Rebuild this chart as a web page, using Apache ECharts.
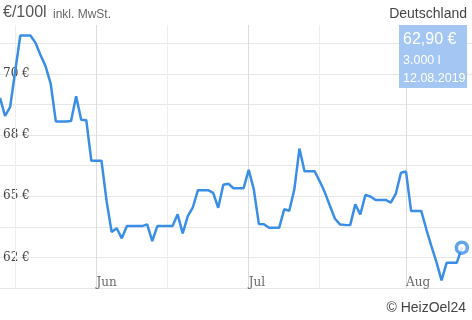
<!DOCTYPE html>
<html><head><meta charset="utf-8">
<script src="https://cdn.jsdelivr.net/npm/echarts@6/dist/echarts.min.js"></script>
<style>html,body{margin:0;padding:0;background:#fff}#c{width:472px;height:320px}</style>
</head><body><div id="c"></div>
<script>
const dates = [
'2019-05-13','2019-05-14','2019-05-15','2019-05-16','2019-05-17','2019-05-18','2019-05-19','2019-05-20','2019-05-21','2019-05-22',
'2019-05-23','2019-05-24','2019-05-25','2019-05-26','2019-05-27','2019-05-28','2019-05-29','2019-05-30','2019-05-31',
'2019-06-01','2019-06-02','2019-06-03','2019-06-04','2019-06-05','2019-06-06','2019-06-07','2019-06-08','2019-06-09','2019-06-10',
'2019-06-11','2019-06-12','2019-06-13','2019-06-14','2019-06-15','2019-06-16','2019-06-17','2019-06-18','2019-06-19','2019-06-20',
'2019-06-21','2019-06-22','2019-06-23','2019-06-24','2019-06-25','2019-06-26','2019-06-27','2019-06-28','2019-06-29','2019-06-30',
'2019-07-01','2019-07-02','2019-07-03','2019-07-04','2019-07-05','2019-07-06','2019-07-07','2019-07-08','2019-07-09','2019-07-10',
'2019-07-11','2019-07-12','2019-07-13','2019-07-14','2019-07-15','2019-07-16','2019-07-17','2019-07-18','2019-07-19','2019-07-20',
'2019-07-21','2019-07-22','2019-07-23','2019-07-24','2019-07-25','2019-07-26','2019-07-27','2019-07-28','2019-07-29','2019-07-30','2019-07-31',
'2019-08-01','2019-08-02','2019-08-03','2019-08-04','2019-08-05','2019-08-06','2019-08-07','2019-08-08','2019-08-09','2019-08-10','2019-08-11','2019-08-12'
];
const prices = [
69.02,68.28,68.65,70.12,71.57,71.57,71.57,71.27,70.76,70.30,
69.59,68.06,68.06,68.06,68.08,69.09,68.13,68.11,66.45,
66.45,66.45,64.80,63.54,63.69,63.28,63.78,63.78,63.78,63.78,
63.85,63.17,63.78,63.78,63.78,63.78,64.26,63.48,64.19,64.55,
65.25,65.25,65.25,65.14,64.53,65.47,65.51,65.33,65.33,65.33,
66.08,65.29,63.87,63.86,63.71,63.71,63.71,64.47,64.41,65.29,
66.95,66.02,66.02,66.02,65.61,65.16,64.61,64.08,63.85,63.83,
63.82,64.67,64.26,65.05,64.99,64.85,64.85,64.85,64.74,65.11,65.96,
66.01,64.40,64.40,64.40,63.65,62.96,62.31,61.56,62.28,62.28,62.28,62.90
];
const yTickValues = [62.5, 65, 67.5, 70];
const yTickLabels = ['62 €', '65 €', '68 €', '70 €'];
const monthTickDates = ['2019-06-01', '2019-07-01', '2019-08-01'];
const monthTickLabels = ['Jun', 'Jul', 'Aug'];
const midMonthGridDates = ['2019-05-16', '2019-06-15', '2019-07-15'];
const axisStart = '2019-05-13';
const axisEnd = '2019-08-14';
const yMin = 61.25, yMax = 72.0, yStep = 1.25;
const unitTitle = '€/100l';
const unitNote = 'inkl. MwSt.';
const regionLabel = 'Deutschland';
const lastPriceText = '62,90 €';
const lastQuantityText = '3.000 l';
const lastDateText = '12.08.2019';
const creditText = '© HeizOel24';

function ts(s) { const p = s.split('-').map(Number); return new Date(p[0], p[1] - 1, p[2]).getTime(); }

const LINE = '#3a8ee6';
const SANS = '"Liberation Sans", Arial, sans-serif';
const SERIF = '"DejaVu Serif", serif';

const seriesData = dates.map((d, i) => [ts(d), prices[i]]);
const last = seriesData[seriesData.length - 1];

const gridLines = monthTickDates.map(d => ({ xAxis: ts(d), lineStyle: { color: '#dddddd', width: 1, type: 'solid' } }))
  .concat(midMonthGridDates.map(d => ({ xAxis: ts(d), lineStyle: { color: '#eeeeee', width: 1, type: 'solid' } })));

const monthLabelData = monthTickDates.map((d, i) => ({ value: [ts(d), yMin], name: monthTickLabels[i] }));

const chart = echarts.init(document.getElementById('c'), null, { renderer: 'canvas' });
chart.setOption({
  animation: false,
  backgroundColor: '#fff',
  grid: { left: 0, right: 0, top: 25, bottom: 32, containLabel: false },
  xAxis: {
    type: 'time',
    min: ts(axisStart), max: ts(axisEnd),
    axisLine: { show: true, lineStyle: { color: '#e6e6e6', width: 1 } },
    axisTick: { show: false },
    splitLine: { show: false },
    axisLabel: { show: false }
  },
  yAxis: {
    type: 'value',
    min: yMin, max: yMax, interval: yStep,
    axisLine: { show: false }, axisTick: { show: false },
    splitLine: { show: true, showMinLine: false, showMaxLine: false, lineStyle: { color: '#e8e8e8', width: 1 } },
    axisLabel: {
      inside: true, margin: 3, showMinLabel: false, showMaxLabel: false,
      formatter: v => { const i = yTickValues.findIndex(t => Math.abs(t - v) < 1e-6); return i >= 0 ? yTickLabels[i] : ''; },
      color: '#444', fontFamily: SERIF, fontSize: 12, verticalAlign: 'middle', padding: [2, 0, 0, 0]
    }
  },
  series: [
    {
      type: 'line', data: seriesData, showSymbol: false, symbol: 'none',
      lineStyle: { color: LINE, width: 2.5 }, z: 3,
      markLine: { silent: true, symbol: ['none', 'none'], label: { show: false }, data: gridLines, z: 1 }
    },
    {
      type: 'scatter', data: monthLabelData, symbol: 'circle', symbolSize: 1, silent: true, z: 4,
      itemStyle: { color: 'rgba(0,0,0,0)' },
      label: { show: true, formatter: p => p.name, position: [0.5, 1.5], align: 'left', verticalAlign: 'bottom',
        color: '#444', fontFamily: SERIF, fontSize: 12 }
    },
    {
      type: 'scatter', data: [last], symbol: 'circle', symbolSize: 11, z: 5,
      itemStyle: { color: '#fff', borderColor: LINE, borderWidth: 3.5 }
    }
  ],
  graphic: [
    { type: 'text', x: 3, y: 12.7, style: { text: unitTitle, font: '16px ' + SANS, fill: '#555', verticalAlign: 'middle' } },
    { type: 'text', x: 53, y: 14.2, style: { text: unitNote, font: '12px ' + SANS, fill: '#666', verticalAlign: 'middle' } },
    { type: 'text', x: 467, y: 14.1, style: { text: regionLabel, font: '14px ' + SANS, fill: '#444', align: 'right', verticalAlign: 'middle' } },
    { type: 'rect', shape: { x: 399, y: 25, width: 68, height: 63 }, style: { fill: '#a3c6f3' }, z: 10 },
    { type: 'text', x: 403, y: 39.5, z: 11, style: { text: lastPriceText, font: '16px ' + SANS, fill: '#fff', verticalAlign: 'middle' } },
    { type: 'text', x: 403, y: 60.8, z: 11, style: { text: lastQuantityText, font: '12.5px ' + SANS, fill: '#fff', verticalAlign: 'middle' } },
    { type: 'text', x: 403, y: 78.8, z: 11, style: { text: lastDateText, font: '12.5px ' + SANS, fill: '#fff', verticalAlign: 'middle' } },
    { type: 'text', x: 466, y: 307.8, style: { text: creditText, font: '14px ' + SANS, fill: '#444', align: 'right', verticalAlign: 'middle' } }
  ]
});
</script>
</body></html>
